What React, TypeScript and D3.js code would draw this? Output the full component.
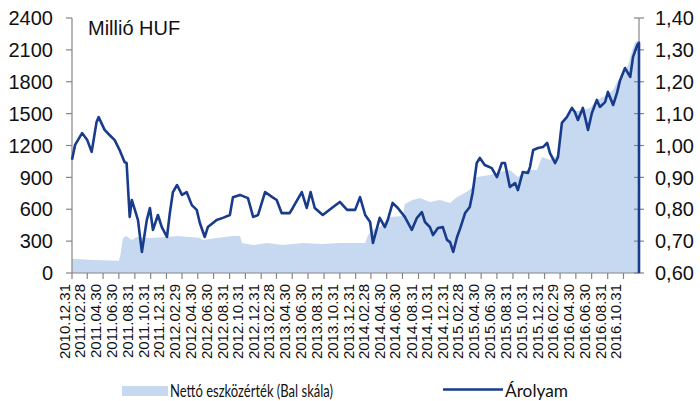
import React from 'react';
import * as d3 from 'd3';

// Nettó eszközérték (millió HUF, bal skála)
const navDates = [
  '2010-12-31', '2011-03-28', '2011-06-30', '2011-07-06', '2011-07-16', '2011-07-28',
  '2011-08-19', '2011-09-08', '2011-10-28', '2012-01-02', '2012-02-10', '2012-03-31',
  '2012-05-08', '2012-05-20', '2012-07-12', '2012-09-13', '2012-10-10', '2012-10-18',
  '2012-11-30', '2013-01-23', '2013-03-24', '2013-06-10', '2013-08-26', '2013-10-31',
  '2014-02-06', '2014-02-17', '2014-03-08', '2014-04-03', '2014-05-11', '2014-07-01',
  '2014-07-09', '2014-08-09', '2014-09-05', '2014-10-14', '2014-11-22', '2014-12-31',
  '2015-01-27', '2015-03-05', '2015-03-28', '2015-04-13', '2015-06-02', '2015-07-11',
  '2015-08-19', '2015-09-19', '2015-10-24', '2015-12-02', '2015-12-21', '2016-01-21',
  '2016-02-18', '2016-03-07', '2016-04-08', '2016-05-27', '2016-06-24', '2016-07-20',
  '2016-08-29', '2016-09-21', '2016-10-06', '2016-10-30', '2016-11-18', '2016-12-04',
  '2016-12-15', '2016-12-30',
];
const navValues = [
  135, 122, 115, 170, 326, 348,
  310, 339, 330, 339, 348, 339,
  330, 310, 330, 348, 348, 282,
  263, 282, 263, 282, 273, 282,
  282, 358, 405, 433, 527, 536,
  650, 687, 706, 668, 687, 659,
  715, 762, 809, 903, 922, 950,
  969, 903, 969, 969, 1092, 1063,
  1110, 1412, 1515, 1534, 1553, 1628,
  1675, 1722, 1797, 1863, 1957, 2098,
  2173, 2190,
];

// Árolyam (jobb skála)
const rateDates = [
  '2010-12-31', '2011-01-12', '2011-02-08', '2011-02-28', '2011-03-17', '2011-04-05',
  '2011-04-13', '2011-05-06', '2011-05-25', '2011-06-14', '2011-07-03', '2011-07-22',
  '2011-07-30', '2011-08-11', '2011-08-19', '2011-08-31', '2011-09-12', '2011-09-27',
  '2011-10-16', '2011-10-28', '2011-11-09', '2011-11-28', '2011-12-13', '2012-01-02',
  '2012-01-13', '2012-01-25', '2012-02-10', '2012-02-29', '2012-03-18', '2012-04-07',
  '2012-04-26', '2012-05-08', '2012-05-27', '2012-06-08', '2012-07-12', '2012-08-05',
  '2012-09-01', '2012-09-13', '2012-10-10', '2012-11-10', '2012-11-30', '2012-12-19',
  '2013-01-15', '2013-02-12', '2013-03-01', '2013-03-20', '2013-04-20', '2013-05-02',
  '2013-06-06', '2013-06-25', '2013-07-10', '2013-07-26', '2013-08-26', '2013-09-30',
  '2013-10-31', '2013-11-28', '2013-12-29', '2014-01-17', '2014-02-06', '2014-02-25',
  '2014-03-08', '2014-04-03', '2014-04-23', '2014-05-04', '2014-05-23', '2014-06-12',
  '2014-07-09', '2014-08-05', '2014-08-25', '2014-09-13', '2014-09-25', '2014-10-14',
  '2014-10-26', '2014-11-14', '2014-12-03', '2014-12-19', '2014-12-31', '2015-01-12',
  '2015-01-27', '2015-02-08', '2015-02-27', '2015-03-17', '2015-03-28', '2015-04-13',
  '2015-04-25', '2015-05-14', '2015-06-10', '2015-06-30', '2015-07-19', '2015-07-31',
  '2015-08-19', '2015-09-08', '2015-09-19', '2015-10-08', '2015-10-28', '2015-11-05',
  '2015-11-17', '2015-12-06', '2015-12-25', '2016-01-10', '2016-01-21', '2016-02-10',
  '2016-02-21', '2016-03-07', '2016-03-26', '2016-04-15', '2016-04-26', '2016-05-08',
  '2016-05-27', '2016-06-16', '2016-07-01', '2016-07-20', '2016-08-01', '2016-08-21',
  '2016-09-01', '2016-09-21', '2016-10-06', '2016-10-18', '2016-11-06', '2016-11-26',
  '2016-12-07', '2016-12-23', '2016-12-30', '2016-12-30',
];
const rateValues = [
  0.955, 1.002, 1.039, 1.017, 0.98, 1.074,
  1.089, 1.049, 1.033, 1.017, 0.986, 0.948,
  0.945, 0.776, 0.829, 0.798, 0.766, 0.666,
  0.766, 0.804, 0.735, 0.782, 0.744, 0.713,
  0.788, 0.854, 0.876, 0.845, 0.854, 0.813,
  0.798, 0.757, 0.713, 0.744, 0.766, 0.773,
  0.782, 0.838, 0.845, 0.835, 0.776, 0.782,
  0.854, 0.838, 0.829, 0.788, 0.788, 0.804,
  0.854, 0.804, 0.854, 0.804, 0.782, 0.804,
  0.823, 0.798, 0.798, 0.838, 0.782, 0.76,
  0.694, 0.773, 0.744, 0.766, 0.82, 0.804,
  0.776, 0.735, 0.773, 0.791, 0.76, 0.744,
  0.719, 0.741, 0.744, 0.704, 0.697, 0.666,
  0.713, 0.74, 0.788, 0.807, 0.851, 0.945,
  0.961, 0.939, 0.929, 0.901, 0.945, 0.945,
  0.87, 0.882, 0.86, 0.917, 0.914, 0.933,
  0.986, 0.992, 0.995, 1.008, 0.976, 0.945,
  0.964, 1.071, 1.089, 1.118, 1.105, 1.08,
  1.118, 1.049, 1.102, 1.143, 1.121, 1.136,
  1.168, 1.127, 1.165, 1.205, 1.243, 1.215,
  1.278, 1.315, 1.322, 0.6,
];

const leftTicks = [0, 300, 600, 900, 1200, 1500, 1800, 2100, 2400];
const rightTicks = [0.6, 0.7, 0.8, 0.9, 1.0, 1.1, 1.2, 1.3, 1.4];
const xTickLabels = [
  '2010.12.31', '2011.02.28', '2011.04.30', '2011.06.30', '2011.08.31', '2011.10.31',
  '2011.12.31', '2012.02.29', '2012.04.30', '2012.06.30', '2012.08.31', '2012.10.31',
  '2012.12.31', '2013.02.28', '2013.04.30', '2013.06.30', '2013.08.31', '2013.10.31',
  '2013.12.31', '2014.02.28', '2014.04.30', '2014.06.30', '2014.08.31', '2014.10.31',
  '2014.12.31', '2015.02.28', '2015.04.30', '2015.06.30', '2015.08.31', '2015.10.31',
  '2015.12.31', '2016.02.29', '2016.04.30', '2016.06.30', '2016.08.31', '2016.10.31',
];

const AREA_COLOR = '#c6d9f0';
const LINE_COLOR = '#183b8c';
const AXIS_COLOR = '#868686';
const FONT = '"Liberation Sans", Arial, sans-serif';
const LEGEND_FONT = 'Lato, "Open Sans", sans-serif';

export default function App() {
  const width = 700;
  const height = 401;
  const left = 72;
  const right = 639;
  const top = 18;
  const bottom = 273;

  const parse = d3.timeParse('%Y-%m-%d');
  const parseTick = d3.timeParse('%Y.%m.%d');

  const x = d3
    .scaleTime()
    .domain([parse('2010-12-31')!, parse('2016-12-30')!])
    .range([left, right]);
  const yLeft = d3.scaleLinear().domain([0, 2400]).range([bottom, top]);
  const yRight = d3.scaleLinear().domain([0.6, 1.4]).range([bottom, top]);

  const navData = navDates.map((d, i) => ({ date: parse(d)!, value: navValues[i] }));
  const rateData = rateDates.map((d, i) => ({ date: parse(d)!, value: rateValues[i] }));

  const area = d3
    .area<{ date: Date; value: number }>()
    .x((d) => x(d.date))
    .y0(yLeft(0))
    .y1((d) => yLeft(d.value));

  const line = d3
    .line<{ date: Date; value: number }>()
    .x((d) => x(d.date))
    .y((d) => yRight(d.value));

  const fmtRight = (v: number) => v.toFixed(2).replace('.', ',');

  return (
    <svg
      width={width}
      height={height}
      style={{ position: 'absolute', left: 0, top: 0, background: '#fff' }}
      fontFamily={FONT}
    >
      <path d={area(navData) ?? ''} fill={AREA_COLOR} />

      {/* left axis */}
      <line x1={left} x2={left} y1={top} y2={bottom} stroke={AXIS_COLOR} strokeWidth={1.2} />
      {leftTicks.map((t) => (
        <g key={'l' + t}>
          <line x1={left - 6} x2={left} y1={yLeft(t)} y2={yLeft(t)} stroke={AXIS_COLOR} strokeWidth={1.2} />
          <text x={53} y={yLeft(t)} dy="0.36em" textAnchor="end" fontSize={20} fill="#111">
            {t}
          </text>
        </g>
      ))}

      {/* right axis */}
      <line x1={right} x2={right} y1={top} y2={bottom} stroke={AXIS_COLOR} strokeWidth={1.2} />
      {rightTicks.map((t) => (
        <g key={'r' + t}>
          <line x1={right - 5} x2={right + 5} y1={yRight(t)} y2={yRight(t)} stroke={AXIS_COLOR} strokeWidth={1.2} />
          <text x={655} y={yRight(t)} dy="0.36em" textAnchor="start" fontSize={20} fill="#111">
            {fmtRight(t)}
          </text>
        </g>
      ))}

      {/* x axis */}
      <line x1={left} x2={right} y1={bottom} y2={bottom} stroke={AXIS_COLOR} strokeWidth={1.2} />
      {xTickLabels.map((lbl) => {
        const tx = x(parseTick(lbl)!);
        return (
          <g key={lbl}>
            <line x1={tx} x2={tx} y1={bottom} y2={bottom + 6} stroke={AXIS_COLOR} strokeWidth={1.2} />
            <text
              transform={`translate(${tx - 2},284) rotate(-90)`}
              textAnchor="end"
              fontSize={15}
              fill="#111"
            >
              {lbl}
            </text>
          </g>
        );
      })}

      <path d={line(rateData) ?? ''} fill="none" stroke={LINE_COLOR} strokeWidth={2.6} strokeLinejoin="round" />

      <text x={88} y={35} fontSize={20} fill="#111">
        Millió HUF
      </text>

      {/* legend */}
      <rect x={122} y={386} width={46} height={10} fill={AREA_COLOR} />
      <text
        x={170}
        y={397}
        fontSize={18}
        fontFamily={LEGEND_FONT}
        textLength={163}
        lengthAdjust="spacingAndGlyphs"
        fill="#111"
      >
        Nettó eszközérték (Bal skála)
      </text>
      <line x1={443} x2={503} y1={389.5} y2={389.5} stroke={LINE_COLOR} strokeWidth={2.6} />
      <text
        x={505}
        y={397}
        fontSize={18}
        fontFamily={LEGEND_FONT}
        textLength={63}
        lengthAdjust="spacingAndGlyphs"
        fill="#111"
      >
        Árolyam
      </text>
    </svg>
  );
}
